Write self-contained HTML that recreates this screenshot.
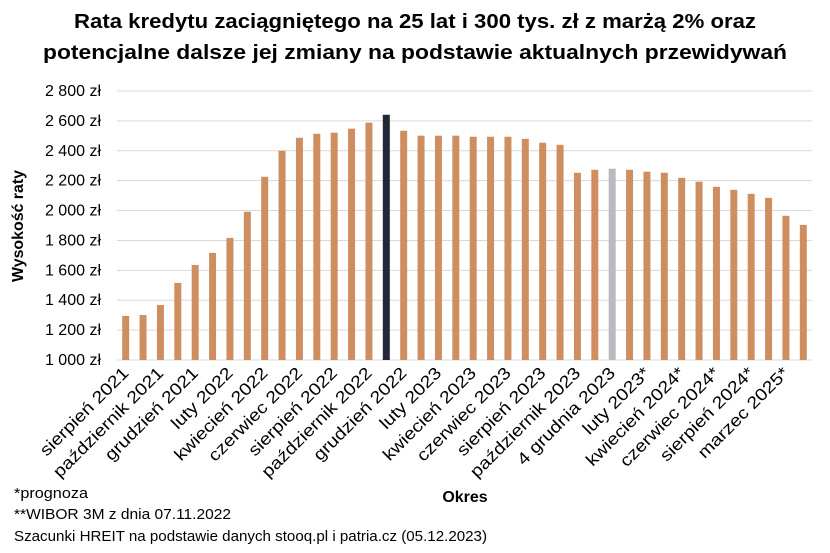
<!DOCTYPE html>
<html><head><meta charset="utf-8"><style>
body{margin:0;background:#fff}
svg{display:block;font-family:"Liberation Sans",sans-serif}
</style></head><body>
<svg id="chart" width="830" height="553" viewBox="0 0 830 553">
<text x="415" y="28" text-anchor="middle" font-size="20" font-weight="bold" textLength="682" lengthAdjust="spacingAndGlyphs">Rata kredytu zaciągniętego na 25 lat i 300 tys. zł z marżą 2% oraz</text>
<text x="415" y="59" text-anchor="middle" font-size="20" font-weight="bold" textLength="744" lengthAdjust="spacingAndGlyphs">potencjalne dalsze jej zmiany na podstawie aktualnych przewidywań</text>
<g id="grid"></g><g id="bars"></g><g id="ylabels"></g><g id="xlabels"></g>
<text transform="translate(23,226) rotate(-90)" text-anchor="middle" font-size="16" font-weight="bold" textLength="112" lengthAdjust="spacingAndGlyphs">Wysokość raty</text>
<text x="465" y="502" text-anchor="middle" font-size="16" font-weight="bold">Okres</text>
<text x="14" y="498" font-size="15" textLength="74" lengthAdjust="spacingAndGlyphs">*prognoza</text>
<text x="14" y="519" font-size="15" textLength="217" lengthAdjust="spacingAndGlyphs">**WIBOR 3M z dnia 07.11.2022</text>
<text x="14" y="541" font-size="15" textLength="473" lengthAdjust="spacingAndGlyphs">Szacunki HREIT na podstawie danych stooq.pl i patria.cz (05.12.2023)</text>
</svg>
<script>
const categories=["sierpień 2021","","październik 2021","","grudzień 2021","","luty 2022","","kwiecień 2022","","czerwiec 2022","","sierpień 2022","","październik 2022","","grudzień 2022","","luty 2023","","kwiecień 2023","","czerwiec 2023","","sierpień 2023","","październik 2023","","4 grudnia 2023","","luty 2023*","","kwiecień 2024*","","czerwiec 2024*","","sierpień 2024*","","marzec 2025*",""];
const values=[1295,1301,1368,1516,1636,1717,1817,1992,2226,2400,2487,2514,2521,2548,2588,2641,2534,2501,2501,2501,2494,2494,2494,2480,2454,2440,2253,2273,2280,2273,2260,2253,2219,2193,2159,2139,2112,2085,1965,1904];
const yTicks=[1000,1200,1400,1600,1800,2000,2200,2400,2600,2800];
const yTickLabels=["1 000 zł","1 200 zł","1 400 zł","1 600 zł","1 800 zł","2 000 zł","2 200 zł","2 400 zł","2 600 zł","2 800 zł"];
const highlight={15:"#222837",28:"#bab8c0"};
const NS="http://www.w3.org/2000/svg";
const x0=117,x1=812,yMin=1000,yMax=2800,yBot=360,yTop=91;
const step=(x1-x0)/values.length;
const xs=i=>x0+step*(i+0.5);
const ys=v=>yBot-(v-yMin)/(yMax-yMin)*(yBot-yTop);
function mk(tag,attrs,parent){const e=document.createElementNS(NS,tag);for(const k in attrs)e.setAttribute(k,attrs[k]);document.getElementById(parent).appendChild(e);return e;}
yTicks.forEach((t,i)=>{
 const l=mk("line",{x1:x0,x2:x1,y1:ys(t),y2:ys(t),stroke:"#d9d9d9","stroke-width":1},"grid");
 
 
 const tx=mk("text",{x:101,y:ys(t)+5,"text-anchor":"end","font-size":16},"ylabels");
 tx.textContent=yTickLabels[i];
 
 
});
values.forEach((v,i)=>{
 const w=7;
 const r=mk("rect",{x:xs(i)-w/2,y:ys(v),width:w,height:yBot-ys(v),fill:highlight[i]||"#cf8e60"},"bars");
 
 
 if(categories[i]){
  const cx=xs(i)+4,cy=374;
  const tx=mk("text",{x:cx,y:cy,"text-anchor":"end","font-size":17,transform:`rotate(-45 ${cx} ${cy})`},"xlabels");
  tx.textContent=categories[i];
  
  
  const len=tx.getComputedTextLength();
  tx.setAttribute('textLength',(len*1.15).toFixed(1));
  tx.setAttribute('lengthAdjust','spacingAndGlyphs');
 }
});
</script>
</body></html>
